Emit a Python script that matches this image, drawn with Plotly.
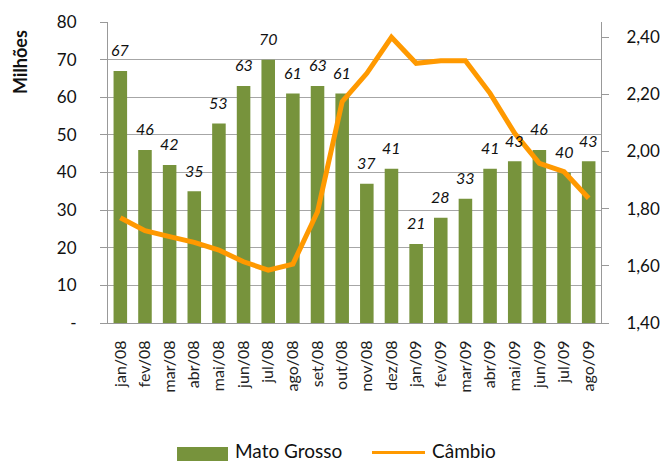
import plotly.graph_objects as go

categories = ["jan/08", "fev/08", "mar/08", "abr/08", "mai/08", "jun/08", "jul/08", "ago/08",
              "set/08", "out/08", "nov/08", "dez/08", "jan/09", "fev/09", "mar/09", "abr/09",
              "mai/09", "jun/09", "jul/09", "ago/09"]
mato_grosso = [67, 46, 42, 35, 53, 63, 70, 61, 63, 61, 37, 41, 21, 28, 33, 41, 43, 46, 40, 43]
cambio = [1.768, 1.723, 1.702, 1.682, 1.655, 1.614, 1.585, 1.606, 1.789, 2.174, 2.273, 2.399,
          2.308, 2.317, 2.317, 2.203, 2.063, 1.958, 1.929, 1.836]
left_ticks = [0, 10, 20, 30, 40, 50, 60, 70, 80]
left_ticktext = ["-", "10", "20", "30", "40", "50", "60", "70", "80"]
right_ticks = [1.4, 1.6, 1.8, 2.0, 2.2, 2.4]
right_ticktext = ["1,40", "1,60", "1,80", "2,00", "2,20", "2,40"]
series_names = ["Mato Grosso", "Câmbio"]

GREEN = "#77933C"
ORANGE = "#FF9900"
FONT = "Lato"

fig = go.Figure()
fig.add_trace(go.Bar(x=categories, y=mato_grosso, name=series_names[0], showlegend=False,
                     marker=dict(color=GREEN, line=dict(width=0)), width=0.55))
fig.add_trace(go.Scatter(x=categories, y=cambio, name=series_names[1], mode="lines",
                         showlegend=False, line=dict(color=ORANGE, width=5), yaxis="y2"))

for c, v in zip(categories, mato_grosso):
    fig.add_annotation(x=c, y=v, text=f"<i>{v}</i>", showarrow=False, yshift=21,
                       yanchor="middle", font=dict(family=FONT, size=16, color="#111"))

fig.add_annotation(xref="paper", yref="paper", x=-0.177, y=0.866, xanchor="center",
                   yanchor="middle", text="<b>Milhões</b>",
                   textangle=-90, showarrow=False, font=dict(family=FONT, size=18, color="#111"))

# manual legend at the bottom
fig.add_shape(type="rect", xref="paper", yref="paper", x0=0.140, x1=0.2434, y0=-0.412, y1=-0.48,
              fillcolor=GREEN, line=dict(width=0))
fig.add_shape(type="line", xref="paper", yref="paper", x0=0.5355, x1=0.643, y0=-0.43, y1=-0.43,
              line=dict(color=ORANGE, width=3))
fig.add_annotation(xref="paper", yref="paper", x=0.2535, y=-0.422, xanchor="left", yanchor="middle",
                   text=series_names[0], showarrow=False,
                   font=dict(family=FONT, size=19, color="#111"))
fig.add_annotation(xref="paper", yref="paper", x=0.653, y=-0.422, xanchor="left", yanchor="middle",
                   text=series_names[1], showarrow=False,
                   font=dict(family=FONT, size=19, color="#111"))

fig.update_layout(
    width=665, height=461,
    margin=dict(l=108, r=64, t=22, b=138),
    paper_bgcolor="white", plot_bgcolor="white",
    font=dict(family=FONT, color="#111"),
    showlegend=False,
    xaxis=dict(type="category", tickangle=-90, tickfont=dict(family=FONT, size=16, color="#222"),
               showline=True, linecolor="#999", linewidth=1, ticks="", showgrid=False,
               ticklabelstandoff=10, automargin=False),
    yaxis=dict(range=[0, 80], tickvals=left_ticks, ticktext=left_ticktext,
               tickfont=dict(family=FONT, size=17, color="#111"),
               showgrid=True, gridcolor="#A6A6A6", gridwidth=1,
               showline=True, linecolor="#999", linewidth=1, ticks="outside",
               ticklen=7, tickcolor="#999", zeroline=False, ticklabelstandoff=20,
               automargin=False),
    yaxis2=dict(range=[1.4, 2.4525], tickvals=right_ticks, ticktext=right_ticktext,
                overlaying="y", side="right",
                tickfont=dict(family=FONT, size=17, color="#111"),
                showgrid=False, showline=True, linecolor="#999", linewidth=1,
                ticks="outside", ticklen=7, tickcolor="#999", zeroline=False,
                ticklabelstandoff=14, automargin=False),
)

fig.write_html("out.html", config={"displayModeBar": False},
               post_script="document.body.style.margin='0';document.body.style.overflow='hidden';")
